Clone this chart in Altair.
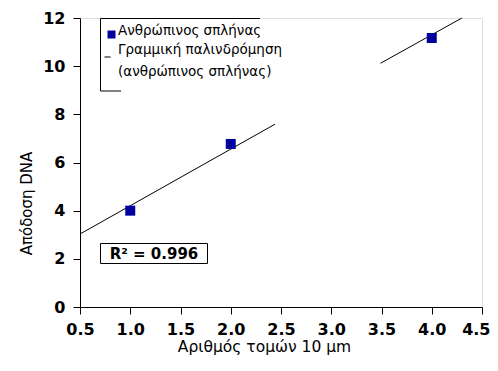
import altair as alt
import pandas as pd

# measured points
pts_x = [1.0, 2.0, 4.0]
pts_y = [4.0, 6.77, 11.17]

# regression line as drawn (two visible segments)
fit_seg = [0, 0, 1, 1]
fit_x = [0.5, 2.44, 3.49, 4.30]
fit_y = [3.03, 7.59, 10.12, 12.0]

x_ticks = [0.5, 1.0, 1.5, 2.0, 2.5, 3.0, 3.5, 4.0, 4.5]
y_ticks = [0, 2, 4, 6, 8, 10, 12]

FONT = "DejaVu Sans"
BLUE = "#00009C"

pts = pd.DataFrame({"x": pts_x, "y": pts_y})
fit = pd.DataFrame({"seg": fit_seg, "x": fit_x, "y": fit_y})

xs = alt.Scale(domain=[0.5, 4.5], nice=False, zero=False)
ys = alt.Scale(domain=[0, 12], nice=False)

xaxis = alt.Axis(values=x_ticks, format=".1f", title="Αριθμός τομών 10 μm",
                 grid=False, domainColor="black", tickColor="black", tickSize=7,
                 labelFont=FONT, labelFontSize=16, labelFontWeight="bold", labelColor="black",
                 labelPadding=7,
                 labelAlign={"condition": {"test": "datum.value >= 4.5", "value": "right"},
                             "value": "center"},
                 labelOffset={"condition": {"test": "datum.value >= 4.5", "value": 8},
                              "value": 0},
                 titleFont=FONT, titleFontSize=15.5, titleFontWeight="normal",
                 titleColor="black", titlePadding=2, titleX=184, titleAlign="center",
                 labelFlush=False, labelOverlap=False)
yaxis = alt.Axis(values=y_ticks, format="d", title="Απόδοση DNA",
                 grid=False, domainColor="black", tickColor="black", tickSize=7,
                 labelFont=FONT, labelFontSize=16, labelFontWeight="bold", labelColor="black",
                 labelPadding=8, titleFont=FONT, titleFontSize=15, titleFontWeight="normal",
                 titleColor="black", titlePadding=8, titleY=185, titleAlign="center",
                 labelFlush=False)

line = alt.Chart(fit).mark_line(color="black", strokeWidth=1).encode(
    x=alt.X("x:Q", scale=xs, axis=xaxis),
    y=alt.Y("y:Q", scale=ys, axis=yaxis),
    detail="seg:N",
)

points = alt.Chart(pts).mark_square(size=100, color=BLUE, opacity=1).encode(
    x=alt.X("x:Q", scale=xs),
    y=alt.Y("y:Q", scale=ys),
)

one = pd.DataFrame({"a": [0]})

# legend box (partial border as in the reference)
box_left = alt.Chart(one).mark_rule(color="black", strokeWidth=1).encode(
    x=alt.value(20.5), y=alt.value(0.5), y2=alt.value(73))
box_top = alt.Chart(one).mark_rule(color="black", strokeWidth=1).encode(
    x=alt.value(20.5), x2=alt.value(180), y=alt.value(0.5))
box_bot = alt.Chart(one).mark_rule(color="black", strokeWidth=1).encode(
    x=alt.value(20.5), x2=alt.value(41), y=alt.value(73))

leg_sq = alt.Chart(one).mark_square(size=64, color=BLUE, opacity=1).encode(
    x=alt.value(31.5), y=alt.value(16.5))
leg_dash = alt.Chart(one).mark_rule(color="black", strokeWidth=1).encode(
    x=alt.value(24.5), x2=alt.value(30.5), y=alt.value(39))

leg_text = pd.DataFrame({
    "t": ["Ανθρώπινος σπλήνας", "Γραμμική παλινδρόμηση", "(ανθρώπινος σπλήνας)"],
    "py": [13, 32, 54],
})
leg_labels = alt.Chart(leg_text).mark_text(align="left", baseline="middle", font=FONT,
                                           fontSize=13.5, color="black").encode(
    x=alt.value(38), y=alt.Y("py:Q", scale=None), text="t:N")

r2_box = alt.Chart(one).mark_rect(fill="white", stroke="black", strokeWidth=1).encode(
    x=alt.value(20.5), x2=alt.value(127.5), y=alt.value(225.5), y2=alt.value(245.5))
r2_text = alt.Chart(pd.DataFrame({"t": ["R² = 0.996"]})).mark_text(
    align="center", baseline="middle", font=FONT, fontSize=15, fontWeight="bold",
    color="black").encode(x=alt.value(74), y=alt.value(236), text="t:N")

chart = alt.layer(line, points, box_left, box_top, box_bot, leg_sq, leg_dash, leg_labels,
                  r2_box, r2_text).properties(
    width=402, height=289,
    autosize=alt.AutoSizeParams(type="none"),
    padding={"left": 72, "top": 10, "right": 8, "bottom": 56},
).configure_view(stroke=None).configure(background="white")

chart.save("out.html", embed_options={"renderer": "svg", "actions": False})
